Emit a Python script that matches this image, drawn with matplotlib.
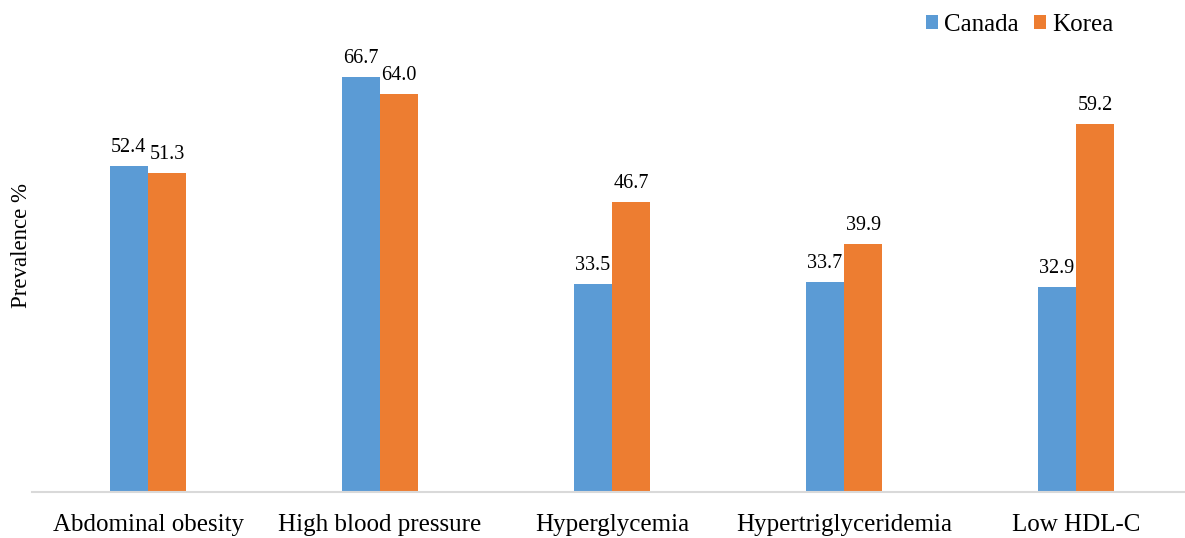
import numpy as np
import matplotlib.pyplot as plt

plt.rcParams['font.family'] = ['Liberation Serif', 'DejaVu Serif']

categories = ["Abdominal obesity", "High blood pressure", "Hyperglycemia",
              "Hypertriglyceridemia", "Low HDL-C"]
canada = [52.4, 66.7, 33.5, 33.7, 32.9]
korea = [51.3, 64.0, 46.7, 39.9, 59.2]

fig = plt.figure(figsize=(11.85, 5.38), dpi=100)
ax = fig.add_axes([0.027, 0.0855, 0.979, 0.809])

x = np.arange(len(categories))
w = 0.165
b1 = ax.bar(x - w / 2, canada, w, color='#5B9BD5', label='Canada')
b2 = ax.bar(x + w / 2, korea, w, color='#ED7D31', label='Korea')

for bars in (b1, b2):
    for rect in bars:
        h = rect.get_height()
        ax.annotate(f'{h:.1f}', (rect.get_x() + rect.get_width() / 2, h),
                    xytext=(0, 9), textcoords='offset pixels',
                    ha='center', va='bottom', fontsize=14.5)

ax.set_xlim(-0.5, len(categories) - 0.5)
ax.set_ylim(0, 70)
ax.set_xticks(x)
ax.set_xticklabels(categories, fontsize=18)
ax.tick_params(axis='x', length=0, pad=16)
ax.set_yticks([])
for s in ('top', 'right', 'left'):
    ax.spines[s].set_visible(False)
ax.spines['bottom'].set_color('#d9d9d9')
ax.spines['bottom'].set_linewidth(1.5)

fig.text(0.018, 0.543, 'Prevalence %', rotation=90, ha='center', va='center',
         fontsize=16.5)

fig.legend(handles=[b1, b2], loc='upper right', bbox_to_anchor=(0.959, 1.016),
           ncol=2, frameon=False, fontsize=18, handlelength=0.5,
           handleheight=0.5, handletextpad=0.25, columnspacing=0.6)

fig.savefig('out.png', dpi=100)
